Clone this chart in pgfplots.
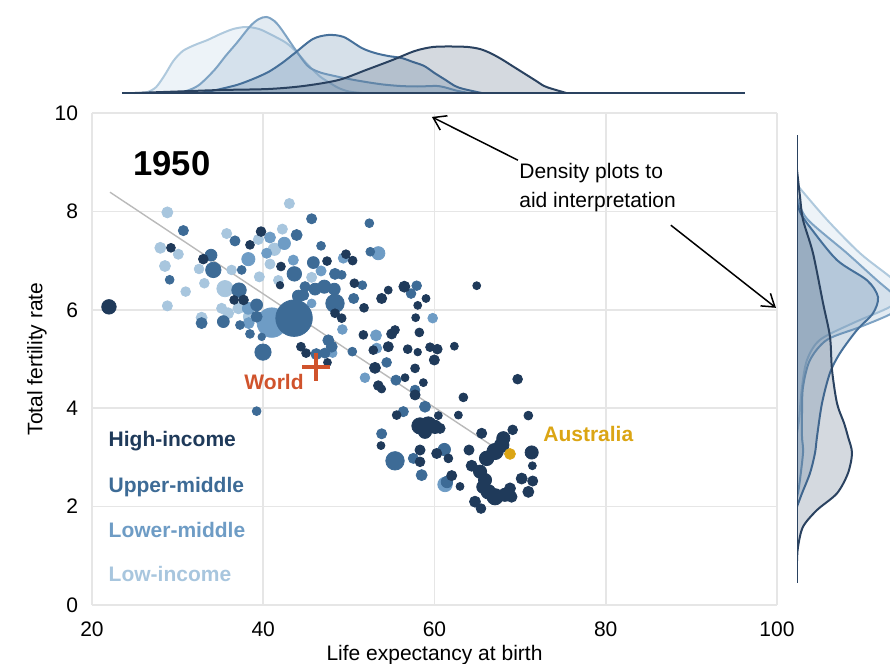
\documentclass[border=0pt]{standalone}
\usepackage{pgfplots}
\pgfplotsset{compat=1.18}
\usepackage{fontspec}
\setmainfont{Liberation Sans}
\usetikzlibrary{arrows.meta}
\definecolor{hi}{HTML}{1F3A5A}
\definecolor{um}{HTML}{3D6B96}
\definecolor{lm}{HTML}{6E9CC5}
\definecolor{lo}{HTML}{A8C6DE}
\definecolor{dhi}{HTML}{2A4260}
\definecolor{dum}{HTML}{46709A}
\definecolor{dlm}{HTML}{7EA3C4}
\definecolor{dlo}{HTML}{AFC9DD}
\definecolor{worldc}{HTML}{D0532C}
\definecolor{ausc}{HTML}{DBA514}
\definecolor{gridc}{HTML}{E6E6E6}
\newcommand{\fs}{\fontsize{10.5}{12.6}\selectfont}
\pgfplotsset{
  bubbles/.style={scatter, only marks, mark=*,
    scatter/use mapped color={draw=#1, fill=#1},
    visualization depends on={\thisrow{r} \as \rr},
    scatter/@pre marker code/.append style={/tikz/mark size=1.1*\rr}},
}
\begin{document}
\begin{tikzpicture}
\path[use as bounding box] (0,0) rectangle (445pt,-332pt);
% ---------------- main scatter axis ----------------
\begin{axis}[
  at={(46pt,-302.5pt)}, anchor=south west,
  scale only axis, width=342.5pt, height=246pt,
  xmin=20, xmax=100, ymin=0, ymax=10,
  xtick={20,40,60,80,100}, ytick={0,2,4,6,8,10},
  grid=major, major grid style={gridc, line width=0.8pt},
  axis line style={draw=none}, tick style={draw=none},
  ticklabel style={font=\fs},
  xticklabel style={yshift=-5pt},
  yticklabel style={xshift=-3.5pt},
  /pgf/number format/assume math mode=true,
  xlabel={Life expectancy at birth}, ylabel={Total fertility rate},
  label style={font=\fs},
  xlabel style={at={(axis description cs:0.5,-0.1016)}, anchor=center},
  ylabel style={at={(axis description cs:-0.0803,0.5)}, anchor=center},
  clip=false,
]
% low-income
\addplot[bubbles=lo] table {
x y r
28.8 7.98 2.5
27.98 7.26 2.5
30.08 7.13 2.3
28.52 6.89 2.5
30.94 6.37 2.2
33.12 6.54 2.2
32.5 6.83 2.2
35.73 7.55 2.3
35.53 6.43 3.7
28.8 6.08 2.3
32.8 5.84 2.5
35.14 6.03 2.3
35.9 5.93 2.5
36.3 6.81 2.2
37.1 6.03 2.5
43.05 8.16 2.3
42.23 7.64 2.3
39.43 7.43 2.3
41.3 7.23 2.8
40.79 6.93 2.3
45.65 6.66 2.3
39.54 6.67 2.3
41.76 6.6 2.2
38.45 5.86 3.0
};
% lower-middle
\addplot[bubbles=lm] table {
x y r
40.79 7.47 2.5
42.46 7.35 2.8
40.4 7.15 2.3
53.44 7.15 3.0
49.35 7.05 2.3
43.51 7.01 2.3
46.75 6.79 2.3
38.26 7.03 3.0
45.65 6.13 2.0
49.24 5.6 2.2
53.17 5.48 2.5
53.25 5.22 2.3
38.26 6.03 2.7
38.3 5.73 2.5
41.0 5.74 6.7
48.1 5.12 2.0
59.79 5.83 2.2
51.88 4.62 2.2
61.23 2.45 3.3
};
% upper-middle
\addplot[bubbles=um] table {
x y r
30.67 7.61 2.3
29.07 6.61 2.0
33.9 7.11 2.7
34.17 6.81 3.5
36.7 7.4 2.3
37.17 6.4 3.3
32.8 5.73 2.5
35.34 5.76 2.7
37.28 5.69 2.0
37.48 6.81 2.0
45.65 7.85 2.3
52.39 7.76 2.0
43.9 7.52 2.5
46.75 7.3 2.0
52.5 7.18 2.0
45.85 6.96 2.7
43.63 6.73 3.3
48.38 6.73 2.5
49.16 6.71 2.0
51.57 6.5 2.0
44.88 6.47 2.3
46.05 6.42 2.7
47.13 6.47 3.0
48.3 6.42 2.7
44.1 6.28 2.7
44.68 6.3 2.5
48.38 6.13 4.2
50.56 6.23 2.3
57.92 6.49 2.2
57.26 6.33 2.2
43.6 5.83 8.3
39.97 5.14 3.7
39.23 6.1 2.7
39.23 5.86 2.5
38.45 5.51 2.0
39.82 5.45 1.7
46.2 5.1 2.5
47.2 5.12 2.3
48.0 5.25 2.5
47.6 5.38 2.5
50.4 5.15 2.0
54.41 4.93 2.2
55.5 4.57 2.3
57.73 4.37 2.2
58.89 4.03 2.5
56.36 3.93 2.3
53.83 3.48 2.3
39.23 3.94 2.0
55.39 2.93 4.2
57.53 2.98 2.3
58.5 2.64 2.5
61.15 3.16 2.8
61.45 2.5 2.6
};
% high-income
\addplot[bubbles=hi] table {
x y r
29.22 7.26 2.0
33.0 7.03 2.2
21.98 6.06 3.3
36.6 6.2 2.0
37.7 6.2 2.2
39.74 7.59 2.2
38.45 7.32 2.0
42.07 6.88 2.0
41.96 6.5 1.7
49.66 7.13 2.0
50.44 7.0 2.0
47.45 6.99 2.0
50.64 6.54 2.0
54.6 6.4 1.8
53.83 6.23 2.3
48.38 5.93 2.0
49.16 5.83 2.0
51.69 5.49 2.0
55.0 5.51 2.3
54.6 5.25 2.3
51.77 6.04 2.0
44.4 5.25 2.0
45.0 5.12 2.0
47.5 4.93 1.8
52.85 5.18 2.0
53.05 4.82 2.5
53.44 4.46 2.2
53.83 4.39 1.8
53.75 3.24 1.8
56.48 6.47 2.5
59.01 6.23 1.8
58.04 6.09 1.8
64.93 6.49 1.8
57.8 5.84 1.8
55.39 5.59 2.0
58.23 5.54 2.0
56.87 5.2 2.0
58.04 5.14 1.7
59.48 5.24 2.0
60.33 5.2 2.2
62.32 5.26 1.8
59.98 4.98 2.3
57.73 4.81 2.0
69.71 4.59 2.2
58.7 4.52 1.8
56.56 4.62 1.8
57.73 4.27 2.3
63.37 4.22 2.0
55.58 3.86 2.0
60.45 3.85 1.8
62.79 3.86 1.8
70.96 3.85 2.0
58.3 3.64 3.7
59.28 3.66 3.7
60.06 3.62 3.0
60.65 3.59 2.3
58.89 3.52 3.0
65.51 3.49 2.3
69.13 3.56 2.2
68.04 3.39 3.0
58.31 3.15 2.3
58.31 2.91 2.2
60.26 3.08 2.3
61.62 2.98 2.0
64.03 3.15 2.3
62.01 2.63 2.3
62.98 2.41 1.8
64.34 2.83 2.5
66.09 2.98 3.3
67.07 3.12 3.7
67.85 3.25 3.3
65.32 2.71 3.0
65.9 2.54 3.0
65.7 2.4 3.0
66.29 2.3 3.3
67.07 2.2 3.7
68.23 2.24 3.0
68.82 2.37 2.5
69.0 2.2 2.5
64.73 2.1 2.5
65.43 1.96 2.2
71.35 3.1 3.0
71.43 2.83 1.8
70.18 2.57 2.5
71.47 2.52 2.3
70.96 2.3 2.5
};
% regression line
\addplot[color=black!27, line width=0.7pt] coordinates {(22.1,8.39) (68.35,3.05)};
% Australia
\addplot[only marks, mark=*, mark size=2.7pt, color=ausc] coordinates {(68.82,3.07)};
% World
\addplot[only marks, mark=+, mark size=7pt, color=worldc, line width=2pt] coordinates {(46.2,4.84)};
\node[font=\bfseries\fontsize{17.3}{20}\selectfont] at (axis cs:29.34,8.98) {1950};
\node[font=\bfseries\fs, color=worldc] at (axis cs:41.26,4.53) {World};
\node[font=\bfseries\fs, color=ausc, anchor=west, inner sep=0pt] at (axis cs:72.67,3.48) {Australia};
\node[font=\bfseries\fs, color=hi, anchor=west, inner sep=0pt] at (axis cs:21.9,3.33) {High-income};
\node[font=\bfseries\fs, color=um, anchor=west, inner sep=0pt] at (axis cs:21.9,2.40) {Upper-middle};
\node[font=\bfseries\fs, color=lm, anchor=west, inner sep=0pt] at (axis cs:21.9,1.52) {Lower-middle};
\node[font=\bfseries\fs, color=lo, anchor=west, inner sep=0pt] at (axis cs:21.9,0.63) {Low-income};
\node[font=\fs, anchor=west, inner sep=0pt] at (axis cs:69.87,8.78) {Density plots to};
\node[font=\fs, anchor=west, inner sep=0pt] at (axis cs:69.87,8.19) {aid interpretation};
\draw[-{Straight Barb[length=6pt,width=8pt]}, line width=0.75pt] (axis cs:69.75,9.04) -- (axis cs:59.7,9.92);
\draw[-{Straight Barb[length=6pt,width=8pt]}, line width=0.75pt] (axis cs:87.6,7.72) -- (axis cs:99.88,6.04);
\end{axis}
% ---------------- top density ----------------
\begin{axis}[
  at={(46pt,-46.5pt)}, anchor=south west,
  scale only axis, width=342.5pt, height=45pt,
  xmin=20, xmax=100, ymin=0, ymax=90,
  hide axis, clip=false,
]
\addplot[smooth, draw=dlo, line width=1pt, fill=dlo, fill opacity=0.22] coordinates {
(25.5,0)(26.5,1)(27.5,6)(28.5,18)(29.5,32)(30.6,42)(32,48)(33.5,53)(35,59)(36.5,64)(38,66)(39.5,64)(41,58)(42.7,50)(44,40)(44.7,33)(45.7,24)(46.7,16)(47.8,10)(48.8,5)(50,1.5)(51.5,0)};
\addplot[smooth, draw=dlm, line width=1pt, fill=dlm, fill opacity=0.22] coordinates {
(29.5,0)(31,2)(32.5,8)(34.3,23)(35.6,37)(36.9,50)(38.5,67)(39.5,74)(40.4,76)(41.3,72)(42.1,64)(43.7,44)(45.2,27)(46.5,21)(47.8,18)(50,14)(52,11)(54,8.5)(56,7)(58,6.5)(60.3,7)(61.5,5)(62.5,2.5)(64,0)};
\addplot[smooth, draw=dum, line width=1pt, fill=dum, fill opacity=0.22] coordinates {
(32.7,0)(34.5,3)(36.9,8)(38.8,14)(40.6,21)(42.2,30)(43.7,40)(45.8,54)(47.6,58)(49.4,56)(51.5,45)(53.05,40)(54.6,37)(56.15,35)(57.5,31)(58.8,27)(60,20)(61.3,13)(62.4,7)(63.4,4)(65.5,0)};
\addplot[smooth, draw=dhi, line width=1pt, fill=dhi, fill opacity=0.2] coordinates {
(25,0)(30,1.5)(35,3)(40.6,4)(44.7,7)(48.8,13)(52,23)(55.1,33)(57.7,42)(59.8,46)(62,46.5)(63.9,46)(65.3,44)(66.5,40)(67.8,34)(69.1,27)(70.4,20)(71.7,13)(72.8,7)(73.8,4)(75.4,0)};
\addplot[dhi, line width=1.1pt] coordinates {(23.5,0) (96.3,0)};
\end{axis}
% ---------------- right density ----------------
\begin{axis}[
  at={(398.5pt,-302.5pt)}, anchor=south west,
  scale only axis, width=46.5pt, height=246pt,
  xmin=0, xmax=93, ymin=0, ymax=10,
  hide axis, clip=true,
]
\addplot[smooth, draw=dlo, line width=1pt, fill=dlo, fill opacity=0.22] coordinates {
(0,8.54)(30,7.83)(63,7.15)(93,6.67)(110,6.35)(93,6.06)(56,5.73)(23,5.39)(10,4.98)(5,4.43)(2,3.76)(0,3.5)};
\addplot[smooth, draw=dlm, line width=1pt, fill=dlm, fill opacity=0.22] coordinates {
(0,8.3)(10,7.85)(50,7.15)(80,6.6)(95,6.34)(103,6.15)(95,5.93)(63,5.65)(30,5.39)(13,4.98)(6,4.43)(5,3.9)(5,3.42)(6,3.09)(2,2.4)(0,2.2)};
\addplot[smooth, draw=dum, line width=1pt, fill=dum, fill opacity=0.22] coordinates {
(0,8.17)(4,7.95)(13,7.68)(40,7.01)(70,6.6)(81,6.26)(76,5.93)(60,5.59)(43,5.12)(33,4.72)(25,4.1)(20,3.42)(18,3.09)(13,2.68)(5,2.27)(0,2.0)};
\addplot[smooth, draw=dhi, line width=1pt, fill=dhi, fill opacity=0.2] coordinates {
(0,8.84)(3,8.3)(6,7.83)(16,7.15)(26,6.14)(33,5.45)(35,4.78)(40,4.1)(47,3.7)(51,3.42)(55,3.09)(51,2.68)(40,2.27)(20,1.93)(6,1.59)(1,1.18)(0,0.9)};
\addplot[dhi, line width=1.1pt] coordinates {(0,0.45) (0,9.55)};
\end{axis}
\end{tikzpicture}
\end{document}
